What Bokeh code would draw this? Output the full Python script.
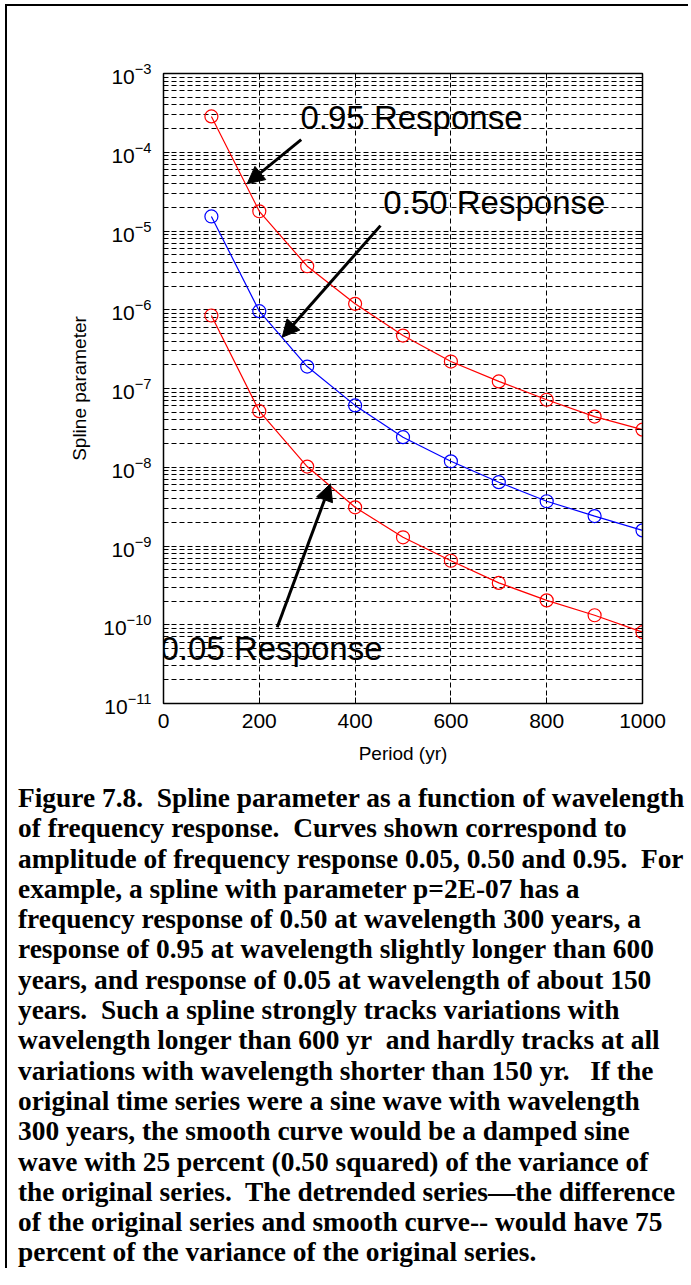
import numpy as np
from bokeh.plotting import figure
from bokeh.models import (Range1d, Arrow, NormalHead, Label, Div, FixedTicker,
                          LogAxis, LinearAxis, CustomJSTickFormatter, LogTickFormatter)
from bokeh.layouts import column, row
from bokeh.embed import file_html
from bokeh.resources import INLINE

# ---- data ----
period = [100, 200, 300, 400, 500, 600, 700, 800, 900, 1000]
resp_095 = [2.85e-4, 1.78e-5, 3.57e-6, 1.19e-6, 4.7e-7, 2.2e-7, 1.23e-7, 7.2e-8, 4.4e-8, 3.0e-8]
resp_050 = [1.53e-5, 9.6e-7, 1.9e-7, 6.1e-8, 2.41e-8, 1.19e-8, 6.46e-9, 3.7e-9, 2.4e-9, 1.58e-9]
resp_005 = [8.45e-7, 5.15e-8, 1.02e-8, 3.1e-9, 1.29e-9, 6.5e-10, 3.4e-10, 2.04e-10, 1.32e-10, 8.05e-11]
x_ticks = [0, 200, 400, 600, 800, 1000]
y_major = [1e-11, 1e-10, 1e-9, 1e-8, 1e-7, 1e-6, 1e-5, 1e-4, 1e-3]

caption_lines = [
    "Figure 7.8.&nbsp; Spline parameter as a function of wavelength",
    "of frequency response.&nbsp; Curves shown correspond to",
    "amplitude of frequency response 0.05, 0.50 and 0.95.&nbsp; For",
    "example, a spline with parameter p=2E-07 has a",
    "frequency response of 0.50 at wavelength 300 years, a",
    "response of 0.95 at wavelength slightly longer than 600",
    "years, and response of 0.05 at wavelength of about 150",
    "years.&nbsp; Such a spline strongly tracks variations with",
    "wavelength longer than 600 yr&nbsp; and hardly tracks at all",
    "variations with wavelength shorter than 150 yr.&nbsp;&nbsp; If the",
    "original time series were a sine wave with wavelength",
    "300 years, the smooth curve would be a damped sine",
    "wave with 25 percent (0.50 squared) of the variance of",
    "the original series.&nbsp; The detrended series\u2014the difference",
    "of the original series and smooth curve-- would have 75",
    "percent of the variance of the original series.",
]

y_minor = [m * d for d in y_major[:-1] for m in range(2, 10)]

W, H = 681, 777
p = figure(width=W, height=H, x_range=Range1d(0, 1000), y_range=Range1d(1e-11, 1e-3),
           y_axis_type="log", output_backend="svg", toolbar_location=None,
           min_border_left=156, min_border_right=46, min_border_top=67, min_border_bottom=80)
p.title.visible = False
p.outline_line_color = "black"
p.outline_line_width = 1.5
p.background_fill_color = "white"
p.border_fill_color = "white"

# ticks / grid
yt = FixedTicker(ticks=y_major, minor_ticks=y_minor)
xt = FixedTicker(ticks=x_ticks, minor_ticks=[])
p.yaxis.ticker = yt
p.xaxis.ticker = xt
p.ygrid.ticker = yt
p.xgrid.ticker = xt
for g in (p.xgrid, p.ygrid):
    g.grid_line_color = "black"
    g.grid_line_dash = "5 3"
    g.grid_line_width = 1
p.ygrid.minor_grid_line_color = "black"
p.ygrid.minor_grid_line_dash = "5 3"

for ax in (p.xaxis, p.yaxis):
    ax.major_tick_in = 6
    ax.major_tick_out = 0
    ax.minor_tick_in = 3
    ax.minor_tick_out = 0
    ax.axis_line_color = "black"
    ax.major_label_text_font = "Liberation Sans"
    ax.major_label_text_font_size = "21px"
    ax.major_label_text_color = "black"
    ax.axis_label_text_font = "Liberation Sans"
    ax.axis_label_text_font_size = "19px"
    ax.axis_label_text_font_style = "normal"
    ax.axis_label_text_color = "black"
p.yaxis.formatter = LogTickFormatter()
p.xaxis.axis_label = "Period (yr)"
p.yaxis.axis_label = "Spline parameter"
p.xaxis.major_label_standoff = 10
p.yaxis.major_label_standoff = 12
p.xaxis.axis_label_standoff = 12
p.yaxis.axis_label_standoff = 10

blank = CustomJSTickFormatter(code="return ''")
ra = LogAxis(ticker=yt, formatter=blank, major_tick_in=6, major_tick_out=0,
             minor_tick_in=3, minor_tick_out=0, major_label_standoff=0)
ta = LinearAxis(ticker=xt, formatter=blank, major_tick_in=6, major_tick_out=0,
                minor_tick_in=0, minor_tick_out=0, major_label_standoff=0)
p.add_layout(ra, "right")
p.add_layout(ta, "above")

# series
for ys, col in ((resp_095, "#ff0000"), (resp_050, "#0000ff"), (resp_005, "#ff0000")):
    p.line(period, ys, line_color=col, line_width=1.2)
    p.scatter(period, ys, marker="circle", size=13, fill_color=None,
              line_color=col, line_width=1.2)

# annotations
notes = [
    ("0.95 Response", 286, 2.8e-4),
    ("0.50 Response", 459, 2.33e-5),
    ("0.05 Response", 0, 5.0e-11),
]
for txt, xx, yy in notes:
    p.add_layout(Label(x=xx, y=yy, text=txt, text_font="Liberation Sans",
                       text_font_size="33px", text_color="black",
                       text_baseline="alphabetic", x_offset=(-3 if xx == 0 else 0)))

arrows = [
    (287.5, 1.45e-4, 174.7, 3.98e-5),
    (453.0, 1.17e-5, 247.8, 4.48e-7),
    (237.4, 9.3e-11, 348.6, 6.16e-9),
]
for x0, y0, x1, y1 in arrows:
    p.add_layout(Arrow(end=NormalHead(size=17, fill_color="black", line_color="black"),
                       x_start=x0, y_start=y0, x_end=x1, y_end=y1,
                       line_width=3, line_color="black"))

# page frame rules (top and left)
top_rule = Div(text="", width=W + 2, height=2, margin=0, styles={"background-color": "black"})
left_rule = Div(text="", width=2, height=H, margin=0, styles={"background-color": "black"})

cap = Div(text="<br>".join(caption_lines), width=W + 2, margin=0,
          styles={"font-family": "'Liberation Serif', 'Times New Roman', serif",
                  "font-weight": "bold", "font-size": "27.4px", "line-height": "30.3px",
                  "white-space": "nowrap", "padding-left": "11px", "color": "black",
                  "border-left": "2px solid black"})

layout = column(top_rule, row(left_rule, p, spacing=0), cap, spacing=0,
                styles={"margin-left": "5px", "margin-top": "4px"})

open("out.html", "w").write(file_html(layout, INLINE))
